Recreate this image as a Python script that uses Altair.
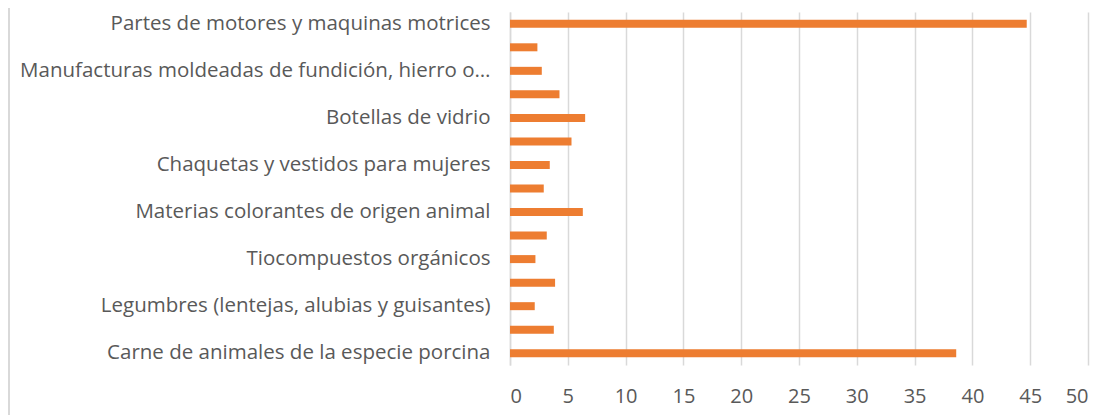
import altair as alt
import pandas as pd

# top-to-bottom order as displayed
labels = [
    "Partes de motores y maquinas motrices",
    "",
    "Manufacturas moldeadas de fundición, hierro o…",
    "",
    "Botellas de vidrio",
    "",
    "Chaquetas y vestidos para mujeres",
    "",
    "Materias colorantes de origen animal",
    "",
    "Tiocompuestos orgánicos",
    "",
    "Legumbres (lentejas, alubias y guisantes)",
    "",
    "Carne de animales de la especie porcina",
]
values = [44.7, 2.37, 2.75, 4.28, 6.50, 5.32, 3.44, 2.92, 6.30, 3.18, 2.20, 3.90, 2.14, 3.79, 38.6]
x_ticks = [0, 5, 10, 15, 20, 25, 30, 35, 40, 45, 50]

df = pd.DataFrame({"pos": list(range(len(labels))), "label": labels, "value": values})

label_js = "[" + ",".join("'" + s.replace("'", "\\'") + "'" for s in labels) + "]"

FONT = "Open Sans"
TXT = "#595959"

bars = alt.Chart(df).mark_bar(size=8, color="#ED7D31").encode(
    y=alt.Y(
        "pos:O",
        sort="ascending",
        scale=alt.Scale(paddingInner=0, paddingOuter=0),
        axis=alt.Axis(
            title=None,
            labelExpr=label_js + "[datum.value]",
            labelFont=FONT,
            labelFontSize=20.5,
            labelColor=TXT,
            labelPadding=20,
            labelLimit=600,
            ticks=False,
            domain=True,
            domainColor="#d9d9d9",
            domainWidth=1.5,
            grid=False,
        ),
    ),
    x=alt.X(
        "value:Q",
        scale=alt.Scale(domain=[0, 50], nice=False),
        axis=alt.Axis(
            title=None,
            values=x_ticks,
            labelFont=FONT,
            labelFontSize=20,
            labelColor=TXT,
            labelPadding=21,
            ticks=False,
            domain=False,
            grid=True,
            gridColor="#d9d9d9",
            gridWidth=1.5,
        ),
    ),
)

border = alt.Chart(df).mark_rule(color="#d9d9d9", strokeWidth=1.5, clip=False).encode(
    x=alt.value(-501), y=alt.value(-14), y2=alt.value(420)
)

chart = alt.layer(bars, border).properties(
    width=578,
    height=353,
    autosize=alt.AutoSizeParams(type="none"),
    padding={"left": 502, "top": 4, "right": 20, "bottom": 50},
).configure_view(stroke=None)

chart.save("out.html", embed_options={"renderer": "svg", "actions": False})
